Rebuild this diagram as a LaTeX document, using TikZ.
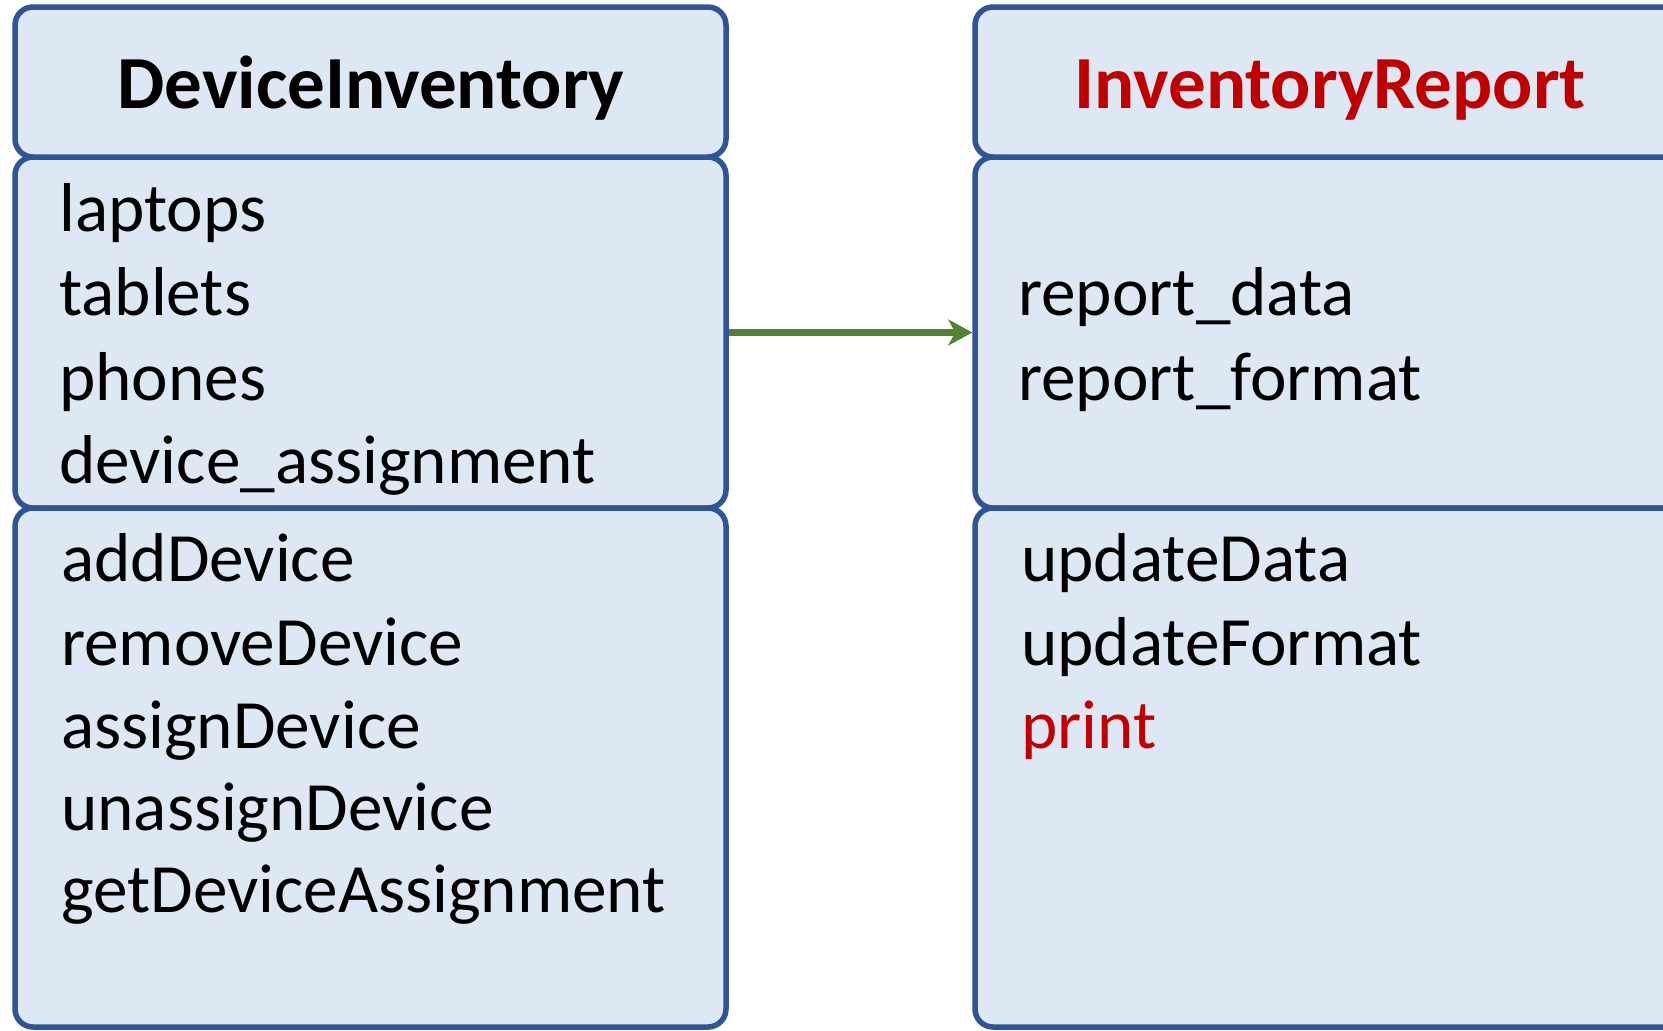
\documentclass[tikz,border=0pt]{standalone}
\usepackage{fontspec}
\setmainfont{Carlito}
\usetikzlibrary{arrows.meta}
\definecolor{boxfill}{HTML}{DEE8F4}
\definecolor{boxline}{HTML}{2F5597}
\definecolor{titlered}{HTML}{C00000}
\definecolor{arrowgreen}{HTML}{548235}
\tikzset{
  compart/.style={draw=boxline, fill=boxfill, line width=5.5pt, rounded corners=18pt,
    minimum width=711pt, inner sep=0pt},
  member/.style={anchor=base west, inner sep=0pt, font=\fontsize{69.2}{80}\selectfont},
  ctitle/.style={anchor=base, inner sep=0pt, font=\fontsize{75}{88}\selectfont\bfseries},
  assoc/.style={draw=arrowgreen, line width=7.5pt, -{Stealth[length=24pt,width=26pt,inset=7pt]}}
}
\begin{document}
\begin{tikzpicture}[x=1pt,y=-1pt]
\useasboundingbox (0,0) rectangle (1663,1031);
\clip (0,0) rectangle (1663,1031);
% left class
\node[compart, minimum height=351pt] (attrL) at (370.5,332.5) {};
\node[compart, minimum height=519pt] (methL) at (370.5,767.5) {};
\node[compart, minimum height=150pt] (headL) at (370.5,82) {};
% right class
\node[compart, minimum height=351pt] (attrR) at (1330.5,332.5) {};
\node[compart, minimum height=519pt] (methR) at (1330.5,767.5) {};
\node[compart, minimum height=150pt] (headR) at (1330.5,82) {};
% titles
\node[ctitle] (tL) at (371,108) {DeviceInventory};
\node[ctitle, text=titlered] (tR) at (1330,108) {InventoryReport};
% left attributes
\node[member] (a1) at (59,231) {laptops};
\node[member] (a2) at (59,315) {tablets};
\node[member] (a3) at (59,400) {phones};
\node[member] (a4) at (59,483) {device\_assignment};
% left methods
\node[member] (m1) at (61,581) {addDevice};
\node[member] (m2) at (61,665) {removeDevice};
\node[member] (m3) at (61,748) {assignDevice};
\node[member] (m4) at (61,830) {unassignDevice};
\node[member] (m5) at (61,912) {getDeviceAssignment};
% right attributes
\node[member] (r1) at (1018,315) {report\_data};
\node[member] (r2) at (1018,400) {report\_format};
% right methods
\node[member] (n1) at (1021,581) {updateData};
\node[member] (n2) at (1021,665) {updateFormat};
\node[member, text=titlered] (n3) at (1021,748) {print};
% association
\draw[assoc] (attrL.east) -- (attrR.west);
\end{tikzpicture}
\end{document}
